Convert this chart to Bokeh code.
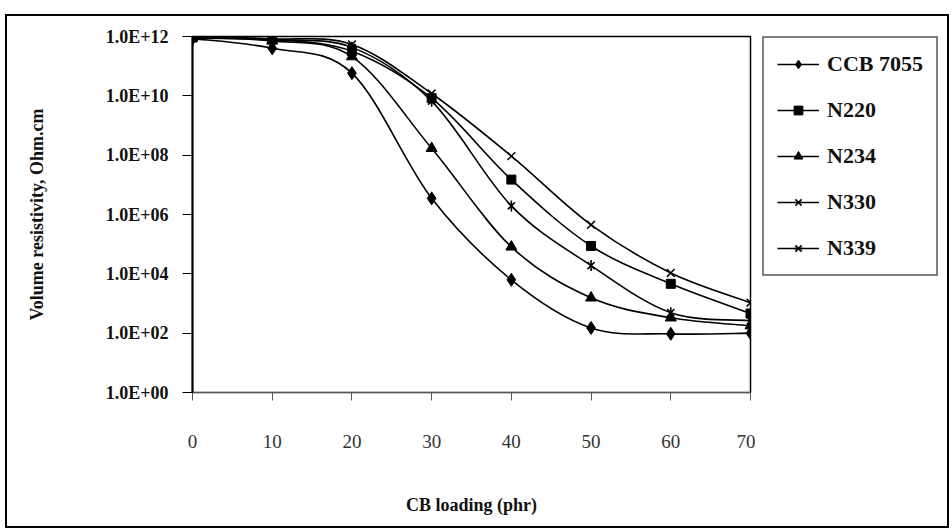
import math
from bokeh.plotting import figure
from bokeh.layouts import row
from bokeh.models import FixedTicker, Legend, LegendItem, ColumnDataSource
from bokeh.embed import file_html
from bokeh.resources import INLINE

# ---- data ----
cb_loading = [0, 10, 20, 30, 40, 50, 60, 70]
ccb7055 = [8.5e11, 4.0e11, 5.8e10, 3.5e6, 6.3e3, 150, 95, 100]
n220 = [9.3e11, 8.0e11, 3.2e11, 8.3e9, 1.5e7, 8.7e4, 4.6e3, 4.6e2]
n234 = [8.9e11, 7.1e11, 2.1e11, 1.7e8, 8.1e4, 1.55e3, 330, 178]
n330 = [9.5e11, 8.3e11, 5.4e11, 1.2e10, 9.3e7, 4.5e5, 1.07e4, 1.07e3]
n339 = [9.1e11, 7.6e11, 4.3e11, 6.6e9, 1.95e6, 1.9e4, 490, 263]
series_names = ["CCB 7055", "N220", "N234", "N330", "N339"]
x_ticks = [0, 10, 20, 30, 40, 50, 60, 70]
y_ticks = [1, 1e2, 1e4, 1e6, 1e8, 1e10, 1e12]
y_tick_labels = ["1.0E+00", "1.0E+02", "1.0E+04", "1.0E+06", "1.0E+08", "1.0E+10", "1.0E+12"]

FONT = "Liberation Serif"

p = figure(width=748, height=510, x_range=(0, 70), y_range=(1, 1e12),
           y_axis_type="log", output_backend="svg", toolbar_location=None,
           min_border_left=185, min_border_right=5, min_border_top=20,
           min_border_bottom=134)
p.grid.visible = False
p.background_fill_color = "white"
p.border_fill_color = "white"
p.outline_line_color = "black"
p.outline_line_width = 1.5

# axes
p.xaxis.ticker = FixedTicker(ticks=x_ticks)
p.yaxis.ticker = FixedTicker(ticks=y_ticks)
p.yaxis.major_label_overrides = {t: l for t, l in zip(y_ticks, y_tick_labels)}
for ax in (p.xaxis[0], p.yaxis[0]):
    ax.minor_tick_line_color = None
    ax.major_tick_in = 0
    ax.axis_line_color = "black"
    ax.major_tick_line_color = "black"
    ax.axis_label_text_font = FONT
    ax.axis_label_text_font_style = "bold"
    ax.axis_label_text_font_size = "18px"
    ax.axis_label_text_color = "#111111"
    ax.major_label_text_font = FONT

p.yaxis.axis_line_width = 2
p.yaxis.major_tick_out = 10
p.yaxis.major_label_standoff = 14
p.yaxis.major_label_text_font_style = "bold"
p.yaxis.major_label_text_font_size = "18px"
p.yaxis.major_label_text_color = "#111111"
p.yaxis.axis_label = "Volume resistivity, Ohm.cm"
p.yaxis.axis_label_standoff = 56

p.xaxis.axis_line_color = "#555555"
p.xaxis.major_tick_line_color = "#555555"
p.xaxis.major_tick_out = 8
p.xaxis.major_label_standoff = 34
p.xaxis.major_label_text_font_size = "19px"
p.xaxis.major_label_text_color = "#333333"
p.xaxis.axis_label = "CB loading (phr)"
p.xaxis.axis_label_standoff = 44


def smooth_bezier(xs, ys):
    """Cubic Bezier segments (Excel-like smoothing) computed in (x, log10 y)."""
    ly = [math.log10(v) for v in ys]
    n = len(xs)
    seg = dict(x0=[], y0=[], x1=[], y1=[], cx0=[], cy0=[], cx1=[], cy1=[])
    for i in range(n - 1):
        i0 = max(i - 1, 0)
        i3 = min(i + 2, n - 1)
        cx0 = xs[i] + (xs[i + 1] - xs[i0]) / 6.0
        cl0 = ly[i] + (ly[i + 1] - ly[i0]) / 6.0
        cx1 = xs[i + 1] - (xs[i3] - xs[i]) / 6.0
        cl1 = ly[i + 1] - (ly[i3] - ly[i]) / 6.0
        seg["x0"].append(xs[i]); seg["y0"].append(ys[i])
        seg["x1"].append(xs[i + 1]); seg["y1"].append(ys[i + 1])
        seg["cx0"].append(cx0); seg["cy0"].append(10 ** cl0)
        seg["cx1"].append(cx1); seg["cy1"].append(10 ** cl1)
    return ColumnDataSource(seg)


def add_markers(fig, name, xs, ys):
    out = []
    if name == "CCB 7055":
        out.append(fig.scatter(xs, ys, marker="diamond", size=13, color="black"))
    elif name == "N220":
        out.append(fig.scatter(xs, ys, marker="square", size=9, color="black"))
    elif name == "N234":
        out.append(fig.scatter(xs, ys, marker="triangle", size=11, color="black"))
    elif name == "N330":
        out.append(fig.scatter(xs, ys, marker="x", size=11, line_color="black", line_width=1.5))
    else:
        out.append(fig.scatter(xs, ys, marker="x", size=10, line_color="black", line_width=1.6))
        out.append(fig.scatter(xs, ys, marker="dash", angle=math.pi / 2, size=11,
                               line_color="black", line_width=1.6))
    return out


all_series = [ccb7055, n220, n234, n330, n339]
for name, ys in zip(series_names, all_series):
    src = smooth_bezier(cb_loading, ys)
    p.bezier(x0="x0", y0="y0", x1="x1", y1="y1", cx0="cx0", cy0="cy0",
             cx1="cx1", cy1="cy1", source=src, line_color="black", line_width=1.6)
    add_markers(p, name, cb_loading, ys)

# ---- legend panel (separate canvas to the right of the plot) ----
pl = figure(width=192, height=510, x_range=(0, 1), y_range=(0, 1),
            output_backend="svg", toolbar_location=None,
            min_border_left=7, min_border_top=20, min_border_right=0, min_border_bottom=0)
pl.axis.visible = False
pl.grid.visible = False
pl.outline_line_color = None
pl.background_fill_color = "white"
pl.border_fill_color = "white"

# legend swatches: renderers placed outside the visible range, used only as legend glyphs
off_x, off_y = [-5, -4], [-5, -5]
items = []
for name in series_names:
    ln = pl.line(x=off_x, y=off_y, line_color="black", line_width=1.6)
    items.append(LegendItem(label=name, renderers=[ln] + add_markers(pl, name, off_x, off_y)))

legend = Legend(items=items, location="top_left", orientation="vertical")
legend.border_line_color = "black"
legend.border_line_width = 2
legend.background_fill_color = "white"
legend.background_fill_alpha = 1
legend.label_text_font = FONT
legend.label_text_font_style = "bold"
legend.label_text_font_size = "22px"
legend.label_text_color = "#111111"
legend.glyph_width = 42
legend.glyph_height = 22
legend.label_height = 22
legend.label_standoff = 8
legend.spacing = 20
legend.padding = 13
legend.margin = 0
pl.add_layout(legend, "center")

layout = row(p, pl)
layout.margin = (16, 0, 0, 7)
layout.styles = {"outline": "2px solid black"}

open("out.html", "w").write(file_html(layout, INLINE))
